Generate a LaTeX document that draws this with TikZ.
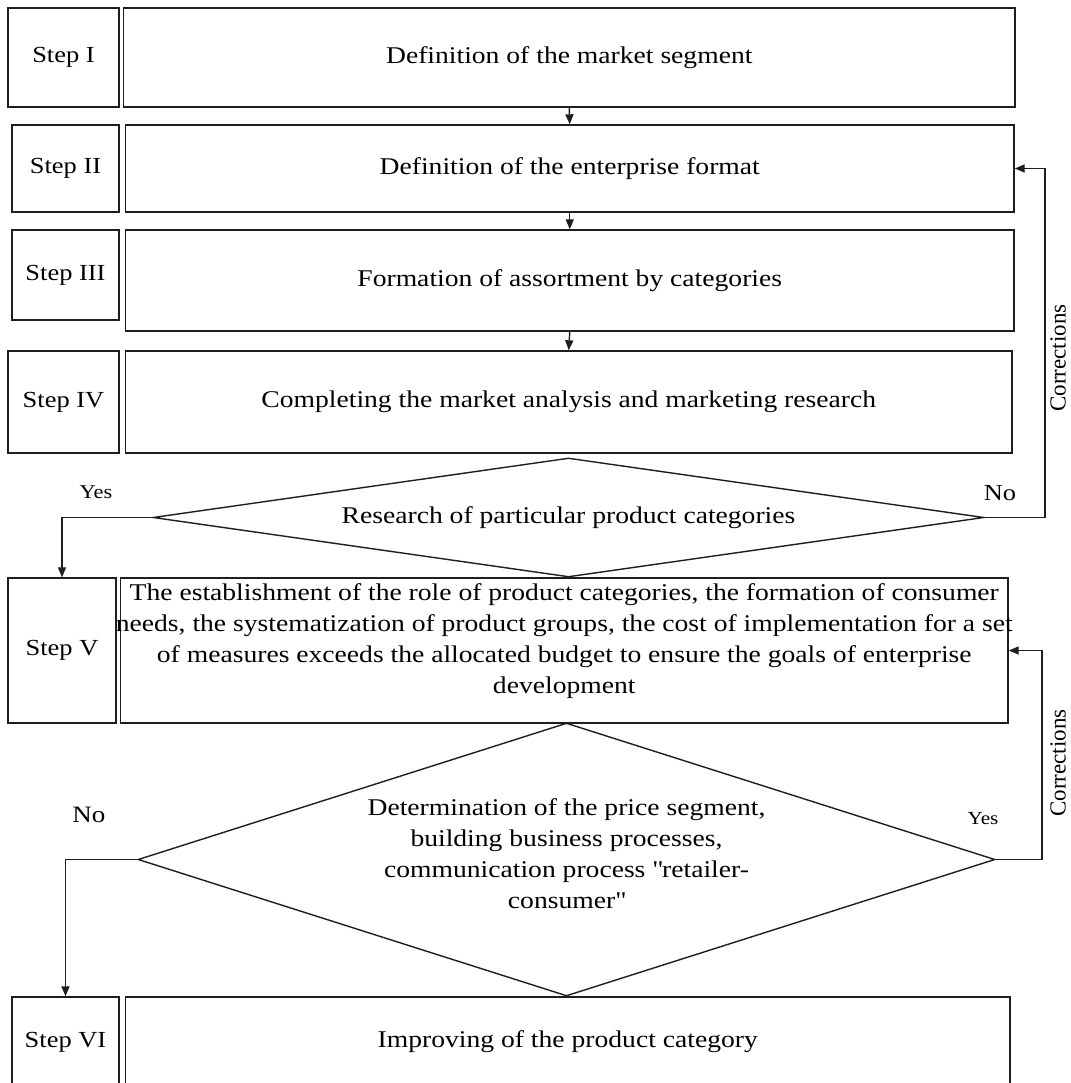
\documentclass[tikz,border=0pt]{standalone}
\usepackage{fontspec}
\setmainfont{Liberation Serif}[FakeStretch=1.15]
\newfontfamily\corrfont{Liberation Serif}
\usetikzlibrary{arrows.meta,shapes.geometric}
\definecolor{lc}{RGB}{30,30,30}
\begin{document}
\begin{tikzpicture}[x=1pt,y=-1pt,
  box/.style={draw=lc, line width=1.4pt, rectangle, inner sep=0pt, align=center,
              font=\fontsize{24}{31}\selectfont},
  stepbox/.style={box, font=\fontsize{23}{28}\selectfont},
  dec/.style={draw=lc, line width=1.4pt, diamond, inner sep=0pt, align=center,
              font=\fontsize{24}{31}\selectfont},
  arr/.style={draw=lc, line width=1.4pt, -{Triangle[length=10pt,width=8pt]}},
  yn/.style={inner sep=0pt},
  corr/.style={inner sep=0pt, rotate=90, font=\corrfont\fontsize{23}{23}\selectfont}]
\fill[white] (0,0) rectangle (1070,1083);
\useasboundingbox (0,0) rectangle (1070,1083);

% Step I
\node[stepbox, minimum width=111pt, minimum height=99pt] (sI) at (63.5,57.5) {Step I};
\node[box, minimum width=891.5pt, minimum height=99pt] (mI) at (569.25,57.5) {Definition of the market segment};
% Step II
\node[stepbox, minimum width=107pt, minimum height=87pt] (sII) at (65.5,168.5) {Step II};
\node[box, minimum width=888.5pt, minimum height=87pt] (mII) at (569.75,168.5) {Definition of the enterprise format};
% Step III
\node[stepbox, minimum width=107pt, minimum height=90pt] (sIII) at (65.5,275) {Step III};
\node[box, minimum width=888.5pt, minimum height=101pt] (mIII) at (569.75,280.5) {Formation of assortment by categories};
% Step IV
\node[stepbox, minimum width=111pt, minimum height=102pt] (sIV) at (63.5,402) {Step IV};
\node[box, minimum width=886.5pt, minimum height=102pt] (mIV) at (568.75,402) {Completing the market analysis and marketing research};
% Decision 1
\node[dec, aspect=7, minimum width=831pt, minimum height=119pt] (d1) at (568.5,517.5) {Research of particular product categories};
% Step V
\node[stepbox, minimum width=108pt, minimum height=145pt] (sV) at (62,650.5) {Step V};
\node[box, minimum width=887.5pt, minimum height=145pt] (mV) at (564.25,650.5)
  {\makebox[0pt]{The establishment of the role of product categories, the formation of consumer}\\
   \makebox[0pt]{needs, the systematization of product groups, the cost of implementation for a set}\\
   \makebox[0pt]{of measures exceeds the allocated budget to ensure the goals of enterprise}\\
   \makebox[0pt]{development}\\[-7pt]\mbox{}};
% Decision 2
\node[dec, aspect=3.14, minimum width=857pt, minimum height=273pt] (d2) at (566.5,859.5)
  {Determination of the price segment,\\ building business processes,\\
   communication process \textquotedbl retailer-\\ consumer\textquotedbl\\[-19pt]\mbox{}};
% Step VI
\node[stepbox, minimum width=107pt, minimum height=90pt] (sVI) at (65.5,1042) {Step VI};
\node[box, minimum width=884.5pt, minimum height=90pt] (mVI) at (567.75,1042) {Improving of the product category};

% arrows between boxes
\draw[arr] (mI.south) -- (mII.north);
\draw[arr] (mII.south) -- (mIII.north);
\draw[arr] (mIII.south) -- (mIV.north);

% decision 1 branches
\draw[arr] (d1.west) -| (sV.north);
\coordinate (c1a) at (1045,517.5);
\draw[arr] (d1.east) -- (c1a) |- (mII.east);

% decision 2 branches
\draw[arr] (d2.west) -| (sVI.north);
\coordinate (c2a) at (1042,859.5);
\draw[arr] (d2.east) -- (c2a) |- (mV.east);

% labels
\node[yn, font=\fontsize{19.5}{20}\selectfont] (y1) at (96,492) {Yes};
\node[yn, font=\fontsize{23}{24}\selectfont] (n1) at (1000,493) {No};
\node[yn, font=\fontsize{23.5}{24}\selectfont] (n2) at (89,815) {No};
\node[yn, font=\fontsize{18.5}{20}\selectfont] (y2) at (983,819) {Yes};
\node[corr] (k1) at (1058,358) {Corrections};
\node[corr] (k2) at (1058,763) {Corrections};
\end{tikzpicture}
\end{document}
